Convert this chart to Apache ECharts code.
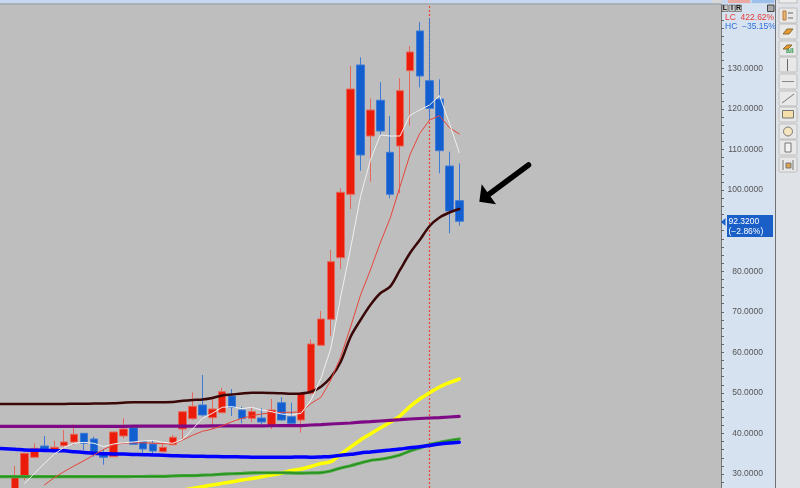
<!DOCTYPE html>
<html><head><meta charset="utf-8">
<style>html,body{margin:0;padding:0;background:#D6E2F0}#c{width:800px;height:488px}</style>
<script src="https://cdn.jsdelivr.net/npm/echarts@6/dist/echarts.min.js"></script>
</head><body><div id="c"></div>
<script>
// bar number per slot; the first two slots precede the first candle, the last ones are the empty right margin
const categories = Array.from({length:74},(_, i)=>String(i));
// open, close, low, high
const candles = [
['-','-','-','-'],['-','-','-','-'],
[24.8,29.2,24.0,32.0],[29.5,35.1,28.5,35.2],[34.11,36.33,34.1,37.57],[36.9,35.91,35.9,39.37],[35.91,36.58,35.42,38.2],
[36.98,37.89,35.91,40.85],[37.89,39.79,37.15,42.25],[40.03,37.57,35.9,40.1],[38.63,35.1,34.26,39.2],[35.1,34.11,32.29,35.9],
[34.26,40.35,34.2,40.4],[39.37,41.09,38.8,43.73],[41.41,37.32,37.2,41.5],[37.96,36.16,34.68,38.1],[37.4,35.67,34.68,38.38],
[35.5,36.58,35.25,37.57],[37.22,39.05,37.07,39.62],[41.1,45.36,38.55,45.4],[43.63,46.69,43.31,50.14],[47.01,44.55,44.13,54.41],
[43.88,46.03,41.08,49.06],[45.11,50.29,44.97,51.28],[49.23,46.45,44.3,50.96],[45.78,43.73,42.5,46.6],[43.73,45.36,42.75,46.6],
[43.8,42.82,42.33,46.2],[41.91,45.78,41.09,48.49],[47.58,43.31,43.14,48.91],[44.13,42.5,42.5,47.58],[43.31,49.9,40.18,50.2],
[49.9,62.06,49.48,63.2],[61.74,68.22,61.7,70.19],[68.15,82.36,64.1,85.24],[83.34,99.47,80.55,100.45],[98.97,124.94,95.35,130.62],
[130.86,108.67,104.79,132.76],[113.35,119.76,102.08,122.65],[122.16,114.58,113.6,126.59],[109.33,98.97,97.99,118.28],[110.88,124.52,99.22,127.58],
[129.45,134.07,115.89,135.55],[139.25,128.15,125.36,141.46],[126.99,120.18,117.3,142.38],[122.48,109.73,104.15,127.33],[105.95,94.86,89.36,109.48],
[97.4,92.32,91.23,106.62]];
const whiteLine = [null,null,null,27.7,30.17,32.6,34.9,36.58,37.57,37.8,37.57,36.73,37.4,37.7,37.89,38.13,38.3,37.8,37.57,38.55,41.09,43.73,44.97,46.45,46.6,46.1,46.45,45.78,45.36,44.8,44.55,44.97,48.25,53.6,61.0,73.72,85.7,98.4,107.4,113.6,113.35,113.35,118.45,119.76,121,123.3,116.5,109.25];
const redLine = [null,null,null,null,null,27.3,29.1,30.6,31.97,33.27,34.68,36.07,37.15,37.57,37.7,37.7,37.57,37.47,37.4,38.38,39.54,40.53,41.09,41.91,42.9,43.73,44.37,44.8,45.1,45.2,45.2,45.36,47.4,48.9,53.18,58.9,66.3,74.1,80.3,87,93.05,100.85,108.67,114,117.3,118.36,115.4,113.85];
const maroonLine = [47.26,47.26,47.26,47.26,47.26,47.26,47.26,47.26,47.31,47.33,47.36,47.38,47.43,47.58,47.68,47.68,47.68,47.7,47.75,48.05,48.25,48.37,48.74,49.36,49.6,49.85,50.02,50.02,49.97,49.9,49.77,49.85,50.29,51.53,53.85,57.69,63.86,67.97,71.67,74.56,76.19,80.31,84.42,87.7,91.16,93.25,94.48,95.35];
const purpleLine = [41.76,41.76,41.76,41.76,41.76,41.76,41.76,41.76,41.76,41.76,41.76,41.76,41.76,41.76,41.78,41.78,41.78,41.8,41.8,41.8,41.82,41.82,41.84,41.85,41.85,41.86,41.87,41.88,41.89,41.9,41.9,41.91,42.08,42.15,42.33,42.45,42.57,42.77,42.9,43.07,43.24,43.39,43.56,43.68,43.8,43.9,44.05,44.18];
const blueLine = [36.3,36.24,36.1,35.9,35.85,35.8,35.75,35.7,35.5,35.3,35.1,35.0,34.93,34.9,34.8,34.75,34.7,34.6,34.5,34.44,34.4,34.35,34.3,34.26,34.25,34.2,34.15,34.1,34.1,34.1,34.15,34.2,34.11,34.2,34.3,34.6,34.85,35.18,35.42,35.67,35.9,36.16,36.48,36.73,37.03,37.4,37.64,37.82];
const greenLine = [29.33,29.33,29.33,29.33,29.33,29.33,29.33,29.33,29.34,29.34,29.35,29.35,29.36,29.36,29.37,29.38,29.39,29.4,29.5,29.58,29.6,29.7,29.8,29.95,30.05,30.15,30.25,30.3,30.3,30.3,30.25,30.2,30.25,30.32,30.74,31.48,32.04,32.71,33.33,33.62,34.07,34.68,35.67,36.41,37.27,37.77,38.26,38.63];
const yellowLine = [null,null,null,null,null,null,null,null,null,null,null,null,null,null,null,null,null,null,null,26.05,26.42,26.87,27.28,27.68,28.07,28.52,28.89,29.3,29.75,30.17,30.86,31.23,31.85,32.59,33.03,34.86,36.65,38.38,39.86,41.34,42.75,44.3,46.6,48.49,50.05,51.45,52.51,53.42];
const tickLabels = [30,40,50,60,70,80,90,100,110,120,130];
const tickMarks = [28,30,32,34,36,38,40,42,44,46,48,50,52,54,56,58,60,62,64,66,68,70,72,74,76,78,80,82,84,86,88,90,92,94,96,98,100,102,104,106,108,110,112,114,116,118,120,122,124,126,128,130,132,134,136,138,140,142,144];
const markedBar = '44';
const lastValue = '92.3200', lastChange = '(\u22122.86%)';
const lcText = 'LC  422.62%', hcText = 'HC  \u221235.15%';

const lineSeries = (data,color,width,extra)=>Object.assign({type:'line',data,showSymbol:false,symbol:'none',silent:true,
  lineStyle:{color,width,cap:'round'},connectNulls:false},extra||{});

const FONT='"Liberation Sans",Arial,sans-serif';
const btnY=[8,24,41,57,74,91,107,124,140,157];
const els=[];
// top strip
els.push({type:'rect',shape:{x:0,y:0,width:800,height:3.5},style:{fill:'#C5D6EE'},z:5});
els.push({type:'rect',shape:{x:0,y:3.5,width:721,height:1},style:{fill:'#8A8A8A'},z:5});
els.push({type:'rect',shape:{x:712,y:0,width:10,height:3},style:{fill:'#D8D8D8'},z:6});
els.push({type:'rect',shape:{x:728,y:0,width:22,height:3},style:{fill:'#E9A8A0'},z:6});
els.push({type:'rect',shape:{x:752,y:0,width:22,height:3},style:{fill:'#9CC0EA'},z:6});
// toolbar
els.push({type:'rect',shape:{x:775.5,y:0,width:24.5,height:488},style:{fill:'#DFE3E8'},z:5});
els.push({type:'rect',shape:{x:775,y:0,width:1,height:488},style:{fill:'#6E7072'},z:6});
els.push({type:'rect',shape:{x:779,y:-8,width:18,height:11},style:{fill:'#ECECEC',stroke:'#BDBDBD'},z:6});
btnY.forEach(y=>els.push({type:'rect',shape:{x:779,y:y,width:18,height:15,r:1},style:{fill:'#E8E8E8',stroke:'#BDBDBD',lineWidth:1},z:6}));
const ln=(x1,y1,x2,y2,c,w)=>els.push({type:'line',shape:{x1,y1,x2,y2},style:{stroke:c||'#777',lineWidth:w||1},z:7});
const rc=(x,y,w,h,f,s)=>els.push({type:'rect',shape:{x,y,width:w,height:h},style:{fill:f,stroke:s||'#777',lineWidth:1},z:7});
// icons
rc(783,11,3,9,'#E8B878','#B87838'); ln(788,13,793,13,'#666'); ln(788,18,793,18,'#666');
els.push({type:'polygon',shape:{points:[[783,34],[787,29],[793,29],[789,34]]},style:{fill:'#E89A30',stroke:'#8A6A30'},z:7});
els.push({type:'polygon',shape:{points:[[783,49],[787,45],[792,45],[788,49]]},style:{fill:'#E89A30',stroke:'#8A6A30'},z:7});
els.push({type:'text',x:786,y:48,style:{text:'all',font:'bold 7px '+FONT,fill:'#3A9A50'},z:7});
ln(787.5,59,787.5,71,'#666'); ln(782,81.5,794,81.5,'#888'); ln(782,103,794,94,'#777');
rc(782.5,110.5,11,7.5,'#F6DFA8','#777');
els.push({type:'circle',shape:{cx:788,cy:131.5,r:4.5},style:{fill:'#F6E6C0',stroke:'#777'},z:7});
rc(785,143,6,9,'#F2F2F2','#777');
ln(783,160,783,170,'#777'); ln(793,160,793,170,'#777'); rc(786,163,5,5,'#D8A050','#777');
// L I R buttons
[['L',722],['I',729],['R',735.5]].forEach(([t,x])=>{
  els.push({type:'rect',shape:{x,y:5,width:6,height:6.5},style:{fill:'#C8C8C8',stroke:'#555',lineWidth:0.6},z:7});
  els.push({type:'text',x:x+3,y:8.4,style:{text:t,font:'bold 7px '+FONT,fill:'#111',align:'center',verticalAlign:'middle'},z:8});
});
els.push({type:'rect',shape:{x:767.5,y:5,width:6.5,height:6.5},style:{fill:'#AAA',stroke:'#444',lineWidth:1},z:7});
// percentage read-outs
els.push({type:'text',x:725,y:17.5,style:{text:lcText,font:'8.5px '+FONT,fill:'#E83A34',verticalAlign:'middle'},z:7});
els.push({type:'text',x:725,y:27,style:{text:hcText,font:'8.5px '+FONT,fill:'#2E6FD8',verticalAlign:'middle'},z:7});
// last value box
els.push({type:'rect',shape:{x:727,y:215,width:46,height:22},style:{fill:'#1A5FC8'},z:7});
els.push({type:'polygon',shape:{points:[[721,222],[725.5,218],[725.5,226]]},style:{fill:'#1A5FC8'},z:7});
els.push({type:'text',x:728.5,y:221.5,style:{text:lastValue,font:'8.5px '+FONT,fill:'#fff',verticalAlign:'middle'},z:8});
els.push({type:'text',x:728.5,y:231.5,style:{text:lastChange,font:'8.5px '+FONT,fill:'#fff',verticalAlign:'middle'},z:8});
// annotation arrow
els.push({type:'line',shape:{x1:528.5,y1:165,x2:488,y2:195},style:{stroke:'#000',lineWidth:5.5,lineCap:'round'},z:9});
els.push({type:'polygon',shape:{points:[[479.3,201.7],[481.7,184.3],[496,204.3]]},style:{fill:'#000'},z:9});

const chart=echarts.init(document.getElementById('c'),null,{renderer:'canvas'});
chart.setOption({
  animation:false,
  backgroundColor:'#D6E2F0',
  grid:{left:-9.877,top:4.5,width:730.877,height:483.5,show:true,backgroundColor:'#BEBEBE',borderWidth:0,outerBoundsMode:'none'},
  xAxis:{type:'category',data:categories,boundaryGap:true,axisLine:{show:false},axisTick:{show:false},axisLabel:{show:false},splitLine:{show:false}},
  yAxis:{type:'value',position:'right',min:26.54,max:145.78,scale:true,
    axisLine:{show:true,onZero:false,lineStyle:{color:'#777',width:1}},
    axisTick:{show:true,length:3,lineStyle:{color:'#666'},customValues:tickMarks},
    axisLabel:{show:true,customValues:tickLabels,align:'right',margin:42,fontFamily:FONT,fontSize:8.5,color:'#555',formatter:v=>v.toFixed(4)},
    splitLine:{show:false}},
  series:[
    lineSeries([],'#F03A2E',1,{z:1,markLine:{z:1,silent:true,symbol:'none',label:{show:false},emphasis:{disabled:true},
      lineStyle:{color:'#EE4438',type:[2,2],width:1.2,opacity:1},data:[{xAxis:markedBar}]}}),
    {type:'candlestick',data:candles,barWidth:8,silent:true,z:3,
      itemStyle:{color:'#EB1C0A',color0:'#135FCF',borderColor:'#E5685C',borderColor0:'#3F7BD4',borderWidth:1}},
    lineSeries(yellowLine,'#FFFF00',3.5,{z:4,smooth:0.3}),
    lineSeries(purpleLine,'#7F0A85',3.2,{z:5}),
    lineSeries(greenLine,'#45A83A',3.2,{z:6,smooth:0.3}),
    lineSeries(greenLine,'#1E8A18',1,{z:6,smooth:0.3}),
    lineSeries(blueLine,'#0000FF',3.5,{z:7,smooth:0.3}),
    lineSeries(maroonLine,'#3A0808',2.5,{z:8,smooth:0.3}),
    lineSeries(redLine,'#E8443A',1,{z:9}),
    lineSeries(whiteLine,'#F0F0F0',1,{z:10})
  ],
  graphic:{elements:els}
});
</script></body></html>
